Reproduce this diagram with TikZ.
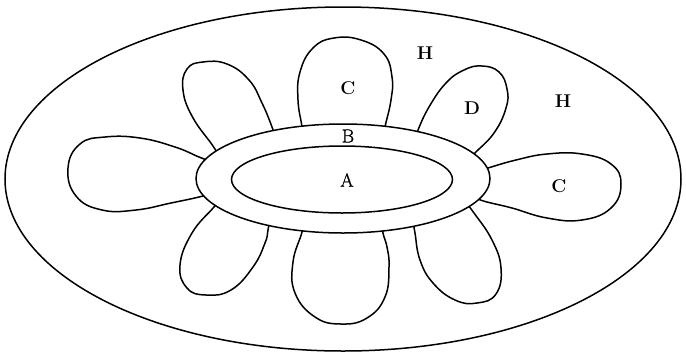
\documentclass[tikz,border=0pt]{standalone}
\usepackage{fontspec}
\newfontfamily\heavylbl[FakeBold=1.2]{Latin Modern Roman}
\usetikzlibrary{shapes.geometric}
\begin{document}
\begin{tikzpicture}[x=1pt,y=-1pt,
  ln/.style={line width=1.5pt,black},
  pet/.style={ln,smooth,tension=0.75},
  lbl/.style={font=\fontsize{18.5}{18.5}\selectfont\bfseries},
  lblr/.style={font=\heavylbl\fontsize{19}{19}\selectfont}]
\useasboundingbox (0,0) rectangle (686,357);
\draw[ln] (343,179) ellipse [x radius=338, y radius=172];
% petals
\draw[pet] plot coordinates {(220,158) (213,146) (192.5,117) (183,90) (187,69) (203,62) (227,64) (249,80) (262,103) (272,127) (276,140)};
\draw[pet] plot coordinates {(303,140) (302,127) (298,100) (300,72) (313,48) (334,38) (361,40) (384,54) (392,77) (391,100) (385,127) (383,140)};
\draw[pet] plot coordinates {(414,142) (418,130) (429,107) (446,83) (464,70) (482,66) (499,72) (507,89) (506,108) (494,133) (474,154) (466,164)};
\draw[pet] plot coordinates {(212,162) (199,157) (175,147) (140,138) (105,137) (80,144) (68,168) (76,196) (102,210) (136,210) (171,203) (199,197) (212,193)};
\draw[pet] plot coordinates {(475,172) (488,168) (516,160) (547,154) (582,154) (611,164) (621,184) (611,208) (582,220) (547,218) (512,208) (487,202) (475,198)};
\draw[pet] plot coordinates {(222,197) (214,207) (192,233) (180,265) (187,288) (206,295) (231,290) (253,267) (265,243) (268,230) (270,218)};
\draw[pet] plot coordinates {(303,220) (302,232) (293,262) (295,293) (315,317) (341,324) (367,318) (385,297) (389,267) (387,247) (383,233) (382,220)};
\draw[pet] plot coordinates {(413,221) (415,233) (420,260) (433,283) (455,300) (477,303) (496,294) (501,268) (492,240) (474,213) (466,203)};
% ring
\node[ln,draw,fill=white,ellipse,minimum width=294pt,minimum height=109pt,inner sep=0pt] (B) at (343,178.5) {};
\node[ln,draw,ellipse,minimum width=221pt,minimum height=67pt,inner sep=0pt] (A) at (342,179.5) {};
% labels
\node[lblr] (la) at (347,180) {A};
\node[lblr] (lb) at (348,136) {B};
\node[lbl] (lc1) at (348,88) {C};
\node[lbl] (lc2) at (559,186) {C};
\node[lbl] (ld) at (472,108) {D};
\node[lbl] (lh1) at (425,53) {H};
\node[lbl] (lh2) at (563,101) {H};
\end{tikzpicture}
\end{document}
